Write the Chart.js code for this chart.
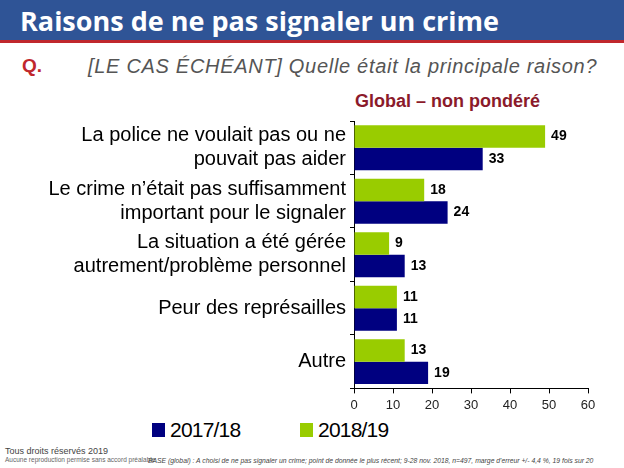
<!DOCTYPE html>
<html>
<head>
<meta charset="utf-8">
<script src="https://cdn.jsdelivr.net/npm/chart.js@4/dist/chart.umd.min.js"></script>
<style>
  body { margin: 0; width: 624px; height: 468px; background: #fff; position: relative; overflow: hidden; font-family: "Liberation Sans", Arial, sans-serif; }
  #header { position: absolute; left: 0; top: 0; width: 624px; height: 40px; background: #2f5496; border-bottom: 3px solid #c0272d; }
  #title { position: absolute; left: 20px; top: 2px; color: #fff; font: bold 27px "Open Sans", sans-serif; }
  #q { position: absolute; left: 22px; top: 55px; color: #c0272d; font: bold 19px "Liberation Sans", sans-serif; }
  #qtext { position: absolute; left: 88px; top: 55px; color: #555; font: italic 20px "Liberation Sans", sans-serif; letter-spacing: 0.7px; }
  #sub { position: absolute; left: 355px; top: 91px; color: #8b1a2b; font: bold 18px "Liberation Sans", sans-serif; }
  #wrap { position: absolute; left: 0; top: 105px; width: 624px; height: 312px; }
  .leg { position: absolute; top: 418px; font: 21px "Liberation Sans", sans-serif; color: #000; letter-spacing: -0.8px; }
  .leg span { display: inline-block; width: 13px; height: 14px; margin-right: 5px; }
  #foot1 { position: absolute; left: 5px; top: 446px; font: 9px "Liberation Sans", sans-serif; color: #444; }
  #foot2 { position: absolute; left: 5px; top: 456px; font: 6.5px "Liberation Sans", sans-serif; color: #666; }
  #foot3 { position: absolute; left: 148px; top: 457px; font: italic 6.8px "Liberation Sans", sans-serif; color: #444; }
</style>
</head>
<body>
<div id="header"><div id="title">Raisons de ne pas signaler un crime</div></div>
<div id="q">Q.</div>
<div id="qtext">[LE CAS ÉCHÉANT] Quelle était la principale raison?</div>
<div id="sub">Global – non pondéré</div>
<div id="wrap"><canvas id="chart"></canvas></div>
<div class="leg" style="left:152px"><span style="background:#000080"></span>2017/18</div>
<div class="leg" style="left:300px"><span style="background:#99cc00"></span>2018/19</div>
<div id="foot1">Tous droits réservés 2019</div>
<div id="foot2">Aucune reproduction permise sans accord préalable</div>
<div id="foot3">BASE (global) : A choisi de ne pas signaler un crime; point de donnée le plus récent; 9-28 nov. 2018, n=497, marge d'erreur +/- 4,4 %, 19 fois sur 20</div>

<script>
var categories = [
  ["La police ne voulait pas ou ne", "pouvait pas aider"],
  ["Le crime n’était pas suffisamment", "important pour le signaler"],
  ["La situation a été gérée", "autrement/problème personnel"],
  "Peur des représailles",
  "Autre"
];
var values1819 = [49, 18, 9, 11, 13];
var values1718 = [33, 24, 13, 11, 19];
var xTicks = [0, 10, 20, 30, 40, 50, 60];

var labelPlugin = {
  id: 'barLabels',
  afterDatasetsDraw: function (chart) {
    var ctx = chart.ctx;
    ctx.save();
    ctx.font = 'bold 14px "Liberation Sans", sans-serif';
    ctx.fillStyle = '#000';
    ctx.textBaseline = 'middle';
    chart.data.datasets.forEach(function (ds, i) {
      chart.getDatasetMeta(i).data.forEach(function (bar, j) {
        ctx.fillText(ds.data[j], bar.x + 6, bar.y);
      });
    });
    ctx.restore();
  }
};

var ctx = document.getElementById('chart').getContext('2d');
var chart = new Chart(ctx, {
  type: 'bar',
  data: {
    labels: categories,
    datasets: [{
      label: '2018/19',
      data: values1819,
      backgroundColor: '#99cc00',
      barPercentage: 1,
      categoryPercentage: 0.84
    }, {
      label: '2017/18',
      data: values1718,
      backgroundColor: '#000080',
      barPercentage: 1,
      categoryPercentage: 0.84
    }]
  },
  options: {
    indexAxis: 'y',
    responsive: true,
    maintainAspectRatio: false,
    animation: false,
    layout: { padding: { top: 2, right: 36, left: 0, bottom: 0 } },
    scales: {
      x: {
        min: 0,
        max: 60,
        afterBuildTicks: function (scale) {
          scale.ticks = xTicks.map(function (v) { return { value: v }; });
        },
        grid: { drawOnChartArea: false, color: '#000', tickLength: 5 },
        border: { color: '#000' },
        ticks: { color: '#222', font: { size: 13, family: 'Liberation Sans' }, padding: 4 }
      },
      y: {
        afterFit: function (scale) { scale.width = 354; },
        grid: { drawOnChartArea: false, color: '#000', tickLength: 4, offset: true },
        border: { color: '#000' },
        ticks: { color: '#000', font: { size: 20, family: 'Liberation Sans', lineHeight: 1.2 }, padding: 4 }
      }
    },
    plugins: {
      legend: { display: false },
      tooltip: { enabled: false }
    }
  },
  plugins: [labelPlugin]
});
</script>
</body>
</html>
